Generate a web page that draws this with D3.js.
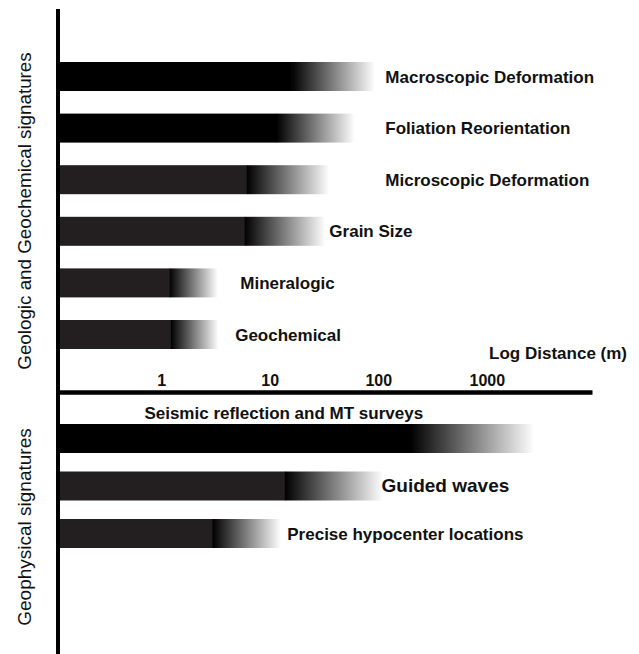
<!DOCTYPE html>
<html>
<head>
<meta charset="utf-8">
<script src="https://cdn.jsdelivr.net/npm/d3@7"></script>
<style>
  body { margin: 0; background: #fff; }
  text { font-family: "Liberation Sans", Arial, sans-serif; fill: #111; }
</style>
</head>
<body>
<div id="chart"></div>
<script>
// geologic / geochemical signatures (distance in metres)
const geoCategories = ["Macroscopic Deformation", "Foliation Reorientation", "Microscopic Deformation",
    "Grain Size", "Mineralogic", "Geochemical"];
const geoSolidEnd = [16, 11.7, 6.2, 5.9, 1.2, 1.24];
const geoFadeEnd = [92, 60, 35, 32, 3.3, 3.35];
const geoLabelAt = [116, 116, 116, 35.4, 5.35, 4.8];
const geoCore = ["deep", "deep", "plain", "plain", "plain", "plain"];

// geophysical signatures
const phyCategories = ["Seismic reflection and MT surveys", "Guided waves", "Precise hypocenter locations"];
const phySolidEnd = [200, 13.9, 3.0];
const phyFadeEnd = [2680, 109, 12.5];
const phyLabelAt = [0.7, 107, 14.5];
const phyCore = ["deep", "plain", "plain"];

const tickValues = [1, 10, 100, 1000];
const axisExtent = [0.112, 9300];

const width = 639, height = 654;
const axisX = 58, axisY = 392, barH = 29;

let svg = d3.select("#chart").append("svg")
    .attr("width", width)
    .attr("height", height);

let defs = svg.append("defs");
let grad = defs.append("linearGradient")
    .attr("id", "fade")
    .attr("x1", "0%").attr("x2", "100%")
    .attr("y1", "0%").attr("y2", "0%");
grad.append("stop").attr("offset", "0%").attr("stop-color", "#000");
grad.append("stop").attr("offset", "100%").attr("stop-color", "#fdfdfd");

let coreColor = {deep: "#000", plain: "#231f20"};

let x = d3.scaleLog()
    .domain(axisExtent)
    .range([axisX, 592]);

let yGeo = d3.scalePoint().domain(geoCategories).range([62, 320]);
let yPhy = d3.scalePoint().domain(phyCategories).range([424, 519]);

function drawGroup(cats, solid, fade, labelAt, core, y, labelAbove) {
    let rows = cats.map((c, i) => ({
        name: c, solid: solid[i], fade: fade[i], labelAt: labelAt[i], core: core[i]
    }));

    let g = svg.append("g");

    g.selectAll(".core")
        .data(rows)
        .join("rect")
        .attr("class", "core")
        .attr("x", axisX)
        .attr("y", d => y(d.name))
        .attr("width", d => x(d.solid) - axisX)
        .attr("height", barH)
        .attr("fill", d => coreColor[d.core]);

    g.selectAll(".fade")
        .data(rows)
        .join("rect")
        .attr("class", "fade")
        .attr("x", d => x(d.solid) - 0.5)
        .attr("y", d => y(d.name))
        .attr("width", d => x(d.fade) - x(d.solid) + 0.5)
        .attr("height", barH)
        .attr("fill", "url(#fade)");

    g.selectAll(".lbl")
        .data(rows)
        .join("text")
        .attr("class", "lbl")
        .attr("x", d => x(d.labelAt))
        .attr("y", d => labelAbove(d) ? y(d.name) - 5 : y(d.name) + barH / 2 + 6)
        .attr("font-weight", "bold")
        .attr("font-size", d => d.name === "Guided waves" ? "19px" : "17px")
        .text(d => d.name);
}

drawGroup(geoCategories, geoSolidEnd, geoFadeEnd, geoLabelAt, geoCore, yGeo, () => false);
drawGroup(phyCategories, phySolidEnd, phyFadeEnd, phyLabelAt, phyCore, yPhy,
    d => d.name === phyCategories[0]);

// distance axis
let xAxis = d3.axisTop(x)
    .tickValues(tickValues)
    .tickFormat(d3.format("d"))
    .tickSize(0)
    .tickPadding(6);

let axG = svg.append("g")
    .attr("transform", "translate(0," + axisY + ")")
    .call(xAxis);
axG.select(".domain").attr("stroke", "#000").attr("stroke-width", 4.5);
axG.selectAll("text")
    .attr("font-family", "Liberation Sans, Arial, sans-serif")
    .attr("font-size", "16px")
    .attr("font-weight", "bold")
    .attr("fill", "#111");

svg.append("text")
    .attr("x", 627)
    .attr("y", 359)
    .attr("text-anchor", "end")
    .attr("font-size", "17px")
    .attr("font-weight", "bold")
    .text("Log Distance (m)");

// vertical line
svg.append("line")
    .attr("x1", axisX).attr("x2", axisX)
    .attr("y1", 9).attr("y2", height)
    .attr("stroke", "#000")
    .attr("stroke-width", 4);

// group titles
svg.append("text")
    .attr("transform", "translate(24,211) rotate(-90)")
    .attr("text-anchor", "middle")
    .attr("dominant-baseline", "central")
    .attr("font-size", "18.8px")
    .text("Geologic and Geochemical signatures");

svg.append("text")
    .attr("transform", "translate(24,527) rotate(-90)")
    .attr("text-anchor", "middle")
    .attr("dominant-baseline", "central")
    .attr("font-size", "19px")
    .text("Geophysical signatures");
</script>
</body>
</html>
